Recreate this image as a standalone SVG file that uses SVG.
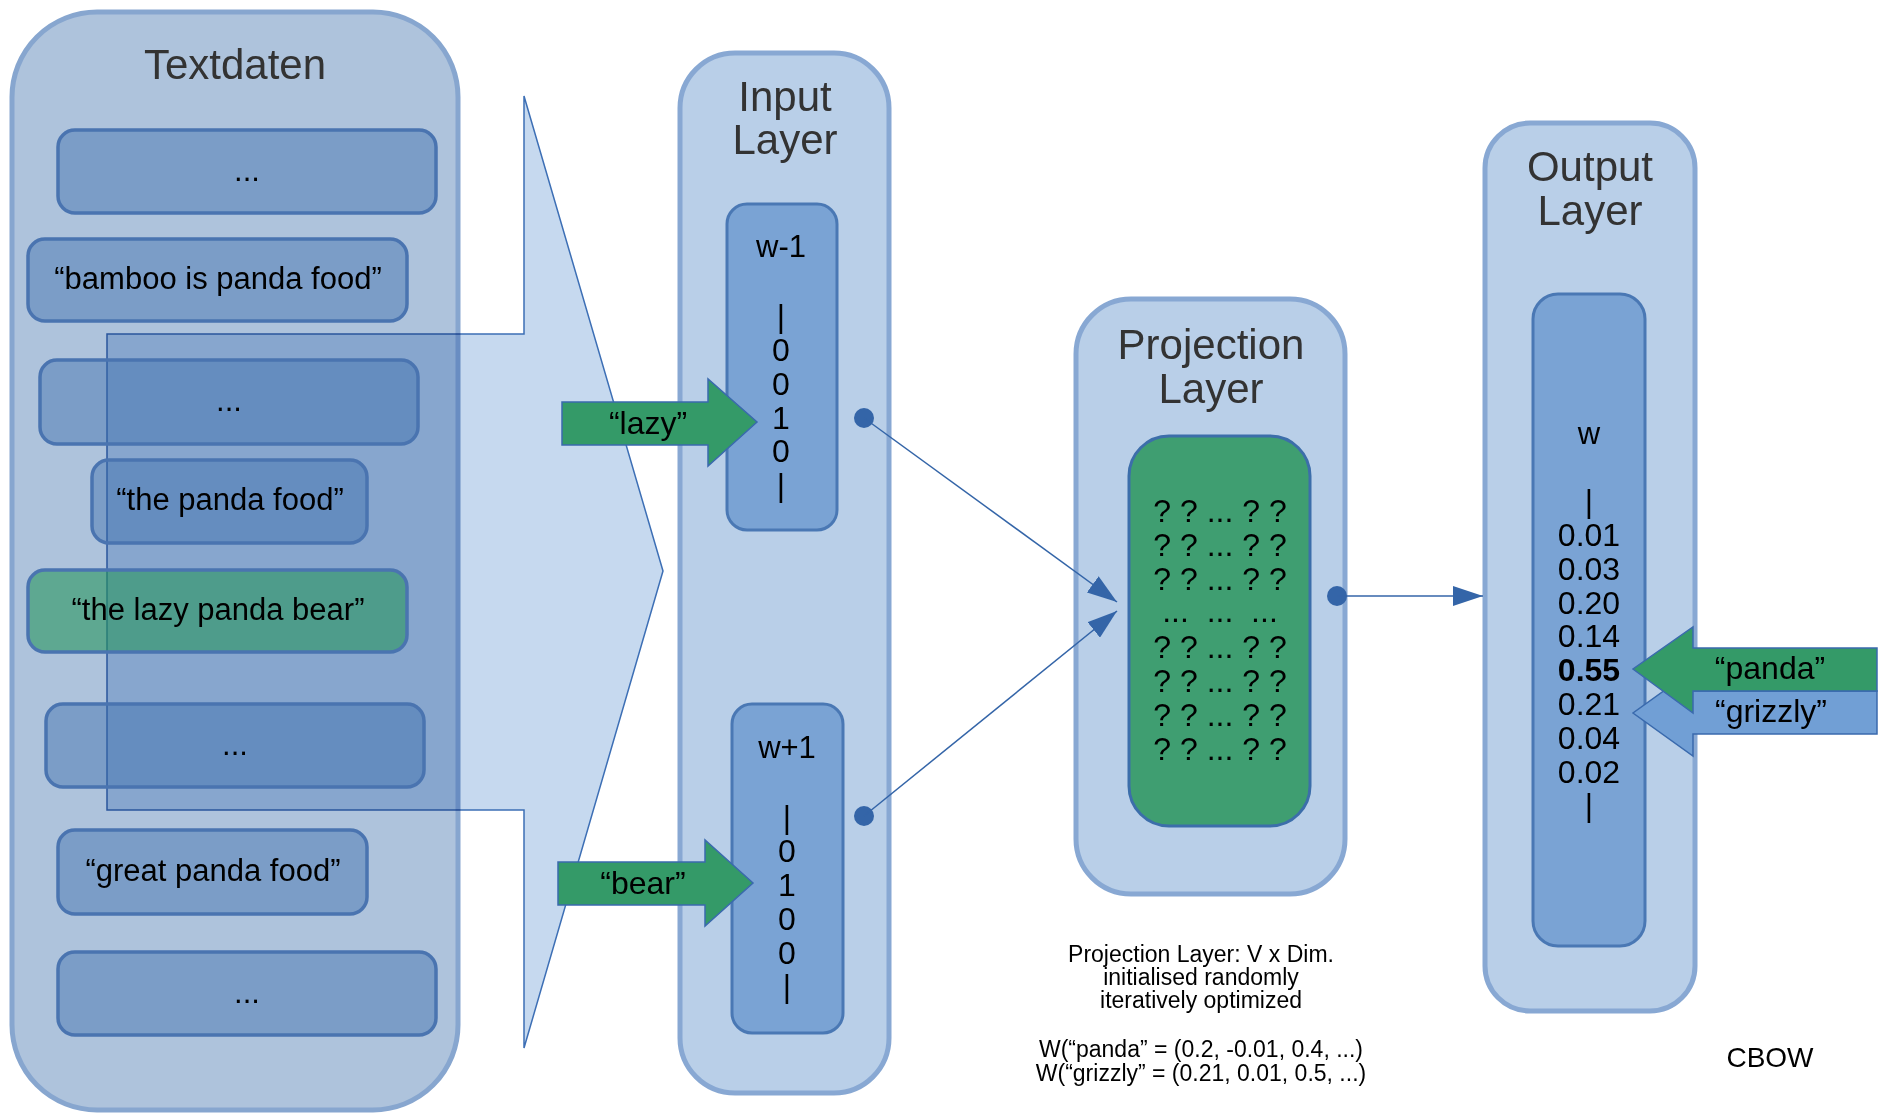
<svg xmlns="http://www.w3.org/2000/svg" width="1882" height="1120" viewBox="0 0 1882 1120">
<defs>
<style>
text{font-family:"Liberation Sans",Arial,sans-serif;fill:#000;text-anchor:middle}
.title{font-size:42px;fill:#333}
.outer{fill:#b9cfe8;stroke:#88a8d3;stroke-width:5}
.vec{fill:#7aa3d4;stroke:#4a78b4;stroke-width:3}
.sent{fill:rgb(60,109,172);fill-opacity:0.44;stroke:#4a74b0;stroke-width:3.5}
.sentg{fill:rgb(40,150,95);fill-opacity:0.6;stroke:#4a74b0;stroke-width:3.5}
.st{font-size:31px}
.num{font-size:32px}
.lbl{font-size:31px}
.cb{font-size:28px}
.arr{font-size:32px}
.note{font-size:23px}
.garrow{fill:#349a68;stroke:#3a6aad;stroke-width:1.5}
.barrow{fill:#719fd5;stroke:#3a6aad;stroke-width:1.5}
.conn{stroke:#3465a8;stroke-width:1.5;fill:none}
.dot{fill:#3465a8}
</style>
<marker id="ah" markerUnits="userSpaceOnUse" markerWidth="30" markerHeight="20" viewBox="0 0 30 20" refX="30" refY="10" orient="auto">
<path d="M0,0 L30,10 L0,20 Z" fill="#3465a8"/>
</marker>
</defs>

<g id="textdaten">
<rect x="12" y="12" width="446" height="1098" rx="85" fill="#aec3dc" stroke="#87a6cf" stroke-width="5"/>
<text class="title" x="235" y="79">Textdaten</text>
</g>

<g id="funnel">
<path d="M524,96 L663,571 L524,1048 L524,810 L107,810 L107,334 L524,334 Z" fill="#c6d9ef" stroke="#3d6fb5" stroke-width="1.5" style="mix-blend-mode:multiply"/>
</g>

<g id="sentence1"><rect class="sent" x="58" y="130" width="378" height="83" rx="17"/><text class="st" x="247" y="181">...</text></g>
<g id="sentence2"><rect class="sent" x="28" y="239" width="379" height="82" rx="17"/><text class="st" x="218" y="289">“bamboo is panda food”</text></g>
<g id="sentence3"><rect class="sent" x="40" y="360" width="378" height="84" rx="17"/><text class="st" x="229" y="411">...</text></g>
<g id="sentence4"><rect class="sent" x="92" y="460" width="275" height="83" rx="17"/><text class="st" x="230" y="510">“the panda food”</text></g>
<g id="sentence5"><rect class="sentg" x="28" y="570" width="379" height="82" rx="17"/><text class="st" x="218" y="620">“the lazy panda bear”</text></g>
<g id="sentence6"><rect class="sent" x="46" y="704" width="378" height="83" rx="17"/><text class="st" x="235" y="755">...</text></g>
<g id="sentence7"><rect class="sent" x="58" y="830" width="309" height="84" rx="17"/><text class="st" x="213" y="881">“great panda food”</text></g>
<g id="sentence8"><rect class="sent" x="58" y="952" width="378" height="83" rx="17"/><text class="st" x="247" y="1003">...</text></g>

<g id="input-layer">
<rect class="outer" x="680" y="53" width="209" height="1040" rx="55"/>
<text class="title" x="785" y="111">Input</text>
<text class="title" x="785" y="154">Layer</text>
</g>

<g id="w-minus-1">
<rect class="vec" x="727" y="204" width="110" height="326" rx="20"/>
<text class="lbl" x="781" y="257">w-1</text>
<text class="num" x="781" y="327">|</text>
<text class="num" x="781" y="361">0</text>
<text class="num" x="781" y="395">0</text>
<text class="num" x="781" y="429">1</text>
<text class="num" x="781" y="462">0</text>
<text class="num" x="781" y="496">|</text>
</g>

<g id="w-plus-1">
<rect class="vec" x="732" y="704" width="111" height="329" rx="20"/>
<text class="lbl" x="787" y="758">w+1</text>
<text class="num" x="787" y="828">|</text>
<text class="num" x="787" y="862">0</text>
<text class="num" x="787" y="896">1</text>
<text class="num" x="787" y="930">0</text>
<text class="num" x="787" y="964">0</text>
<text class="num" x="787" y="997">|</text>
</g>

<g id="arrow-lazy">
<path class="garrow" d="M562,402 L708,402 L708,379 L757,422 L708,466 L708,445 L562,445 Z"/>
<text class="arr" x="648" y="434">“lazy”</text>
</g>

<g id="arrow-bear">
<path class="garrow" d="M558,862 L705,862 L705,840 L753,883 L705,926 L705,905 L558,905 Z"/>
<text class="arr" x="643" y="894">“bear”</text>
</g>

<g id="projection-layer">
<rect class="outer" x="1076" y="299" width="269" height="595" rx="55"/>
<text class="title" x="1211" y="359">Projection</text>
<text class="title" x="1211" y="403">Layer</text>
<rect x="1129" y="436" width="181" height="390" rx="40" fill="#3f9e71" stroke="#3c6eaa" stroke-width="3"/>
<text class="num" x="1220" y="522">? ? ... ? ?</text>
<text class="num" x="1220" y="556">? ? ... ? ?</text>
<text class="num" x="1220" y="590">? ? ... ? ?</text>
<text class="num" x="1220" y="622">...&#160;&#160;...&#160;&#160;...</text>
<text class="num" x="1220" y="658">? ? ... ? ?</text>
<text class="num" x="1220" y="692">? ? ... ? ?</text>
<text class="num" x="1220" y="726">? ? ... ? ?</text>
<text class="num" x="1220" y="760">? ? ... ? ?</text>
</g>

<g id="output-layer">
<rect class="outer" x="1485" y="123" width="210" height="888" rx="45"/>
<text class="title" x="1590" y="181">Output</text>
<text class="title" x="1590" y="225">Layer</text>
<rect class="vec" x="1533" y="294" width="112" height="652" rx="25"/>
<text class="lbl" x="1589" y="444">w</text>
<text class="num" x="1589" y="512">|</text>
<text class="num" x="1589" y="546">0.01</text>
<text class="num" x="1589" y="580">0.03</text>
<text class="num" x="1589" y="614">0.20</text>
<text class="num" x="1589" y="647">0.14</text>
<text class="num" x="1589" y="681" font-weight="bold">0.55</text>
<text class="num" x="1589" y="715">0.21</text>
<text class="num" x="1589" y="749">0.04</text>
<text class="num" x="1589" y="783">0.02</text>
<text class="num" x="1589" y="816">|</text>
</g>

<g id="arrow-grizzly">
<path class="barrow" d="M1877,691 L1693,691 L1693,670 L1633,713 L1693,756 L1693,734 L1877,734 Z"/>
<text class="arr" x="1771" y="722">“grizzly”</text>
</g>

<g id="arrow-panda">
<path class="garrow" d="M1877,648 L1693,648 L1693,627 L1633,669 L1693,713 L1693,691 L1877,691 Z"/>
<text class="arr" x="1770" y="679">“panda”</text>
</g>

<g id="connectors">
<circle class="dot" cx="864" cy="418" r="10"/>
<circle class="dot" cx="864" cy="816" r="10"/>
<circle class="dot" cx="1337" cy="596" r="10"/>
<line class="conn" x1="864" y1="418" x2="1117" y2="602" marker-end="url(#ah)"/>
<line class="conn" x1="864" y1="816" x2="1117" y2="611" marker-end="url(#ah)"/>
<line class="conn" x1="1337" y1="596" x2="1483" y2="596" marker-end="url(#ah)"/>
</g>

<g id="notes">
<text class="note" x="1201" y="962">Projection Layer: V x Dim.</text>
<text class="note" x="1201" y="985">initialised randomly</text>
<text class="note" x="1201" y="1008">iteratively optimized</text>
<text class="note" x="1201" y="1057">W(“panda” = (0.2, -0.01, 0.4, ...)</text>
<text class="note" x="1201" y="1081">W(“grizzly” = (0.21, 0.01, 0.5, ...)</text>
</g>

<g id="cbow">
<text class="cb" x="1770" y="1067">CBOW</text>
</g>
</svg>
